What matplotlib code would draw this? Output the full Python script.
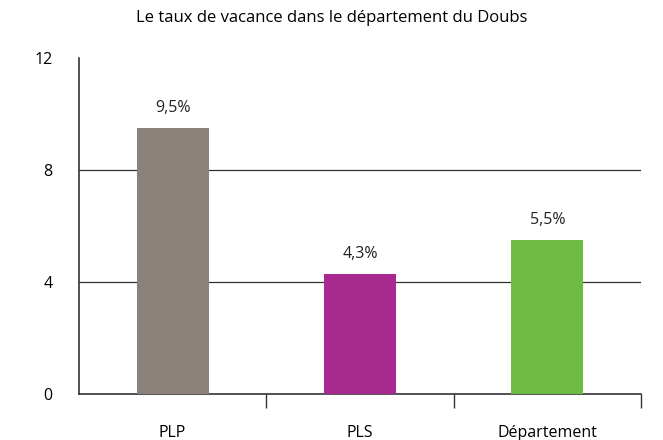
import matplotlib.pyplot as plt
import numpy as np

plt.rcParams['font.family'] = ['Open Sans', 'DejaVu Sans']

categories = ["PLP", "PLS", "Département"]
values = [9.5, 4.3, 5.5]
labels = ["9,5%", "4,3%", "5,5%"]
colors = ["#8c807b", "#a82a8e", "#6dbb45"]

fig = plt.figure(figsize=(6.63, 4.40), dpi=100)
ax = fig.add_axes([0.119, 0.105, 0.848, 0.763])

x = np.arange(len(categories))
ax.bar(x, values, width=0.385, color=colors, zorder=3)

for xi, v, lab in zip(x, values, labels):
    ax.text(xi, v + 0.42, lab, ha="center", va="bottom", fontsize=11.5, color="#222222")

ax.set_xlim(-0.5, 2.5)
ax.set_ylim(0, 12)
ax.set_yticks([0, 4, 8, 12])
ax.tick_params(axis="y", length=0, pad=19, labelsize=11.5)

# grid lines at 4 and 8 only
for g in [4, 8]:
    ax.axhline(g, color="#333333", linewidth=0.9, zorder=1)

# category boundary ticks on x axis
ax.set_xticks([0.5, 1.5, 2.5])
ax.set_xticklabels([])
ax.tick_params(axis="x", length=10, width=1, color="#333333", direction="out")
for xi, c in zip(x, categories):
    ax.text(xi, -0.092, c, transform=ax.get_xaxis_transform(), ha="center", va="top", fontsize=11.5)

for s in ["top", "right"]:
    ax.spines[s].set_visible(False)
for s in ["left", "bottom"]:
    ax.spines[s].set_color("#333333")
    ax.spines[s].set_linewidth(1.2)

fig.text(0.5, 0.959, "Le taux de vacance dans le département du Doubs", ha="center", va="center", fontsize=12)

fig.savefig("out.png", dpi=100)
